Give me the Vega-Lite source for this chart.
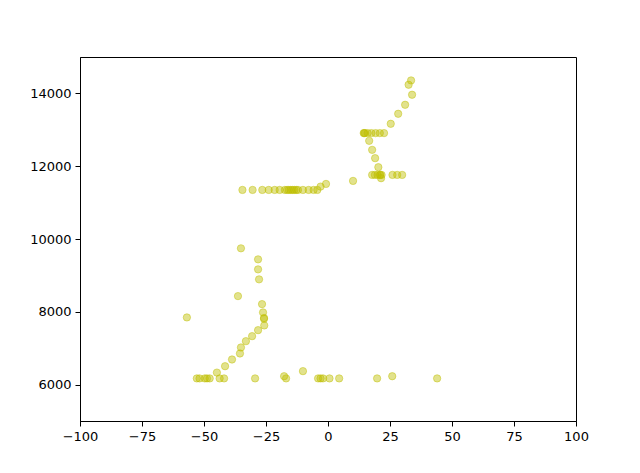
{
  "$schema": "https://vega.github.io/schema/vega-lite/v6.json",
  "width": 496,
  "height": 364,
  "autosize": "none",
  "padding": {"left": 80, "top": 57, "right": 64, "bottom": 52},
  "background": "white",
  "config": {
    "view": {"stroke": "black", "strokeWidth": 1},
    "axis": {
      "grid": false,
      "domainColor": "black",
      "tickColor": "black",
      "tickSize": 5,
      "labelColor": "black",
      "labelFont": "DejaVu Sans",
      "labelFontSize": 13,
      "labelPadding": 4,
      "labelFlush": false,
      "title": null
    }
  },
  "data": {
    "values": [
      {"x": -52.9, "y": 6170}, {"x": -51.8, "y": 6170}, {"x": -49.7, "y": 6170}, {"x": -48.8, "y": 6170},
      {"x": -47.7, "y": 6170}, {"x": -43.7, "y": 6170}, {"x": -41.9, "y": 6170}, {"x": -29.4, "y": 6170},
      {"x": -17.7, "y": 6230}, {"x": -16.9, "y": 6170}, {"x": -10.1, "y": 6370}, {"x": -4.0, "y": 6170},
      {"x": -3.0, "y": 6170}, {"x": -2.0, "y": 6170}, {"x": 0.6, "y": 6170}, {"x": 4.5, "y": 6170},
      {"x": 19.8, "y": 6170}, {"x": 25.9, "y": 6230}, {"x": 44.0, "y": 6170},
      {"x": -44.8, "y": 6330}, {"x": -41.5, "y": 6505}, {"x": -38.7, "y": 6690},
      {"x": -35.5, "y": 6855}, {"x": -35.1, "y": 7020}, {"x": -33.1, "y": 7193}, {"x": -30.6, "y": 7331},
      {"x": -28.2, "y": 7496}, {"x": -25.7, "y": 7625}, {"x": -25.8, "y": 7807}, {"x": -25.8, "y": 7830},
      {"x": -26.2, "y": 7983}, {"x": -26.6, "y": 8211}, {"x": -56.9, "y": 7845}, {"x": -36.3, "y": 8431},
      {"x": -27.8, "y": 8891}, {"x": -28.2, "y": 9166}, {"x": -28.2, "y": 9441}, {"x": -35.1, "y": 9744},
      {"x": -34.5, "y": 11348}, {"x": -30.4, "y": 11348}, {"x": -26.5, "y": 11348}, {"x": -23.9, "y": 11348},
      {"x": -21.5, "y": 11348}, {"x": -19.5, "y": 11348}, {"x": -17.4, "y": 11348}, {"x": -16.5, "y": 11348},
      {"x": -15.8, "y": 11348}, {"x": -15.0, "y": 11348}, {"x": -14.3, "y": 11348}, {"x": -13.6, "y": 11348},
      {"x": -12.8, "y": 11348}, {"x": -12.1, "y": 11348}, {"x": -10.1, "y": 11348}, {"x": -7.8, "y": 11348},
      {"x": -5.8, "y": 11348}, {"x": -4.3, "y": 11348}, {"x": -3.0, "y": 11440}, {"x": -0.8, "y": 11513},
      {"x": 10.1, "y": 11596},
      {"x": 33.5, "y": 14356}, {"x": 32.5, "y": 14238}, {"x": 33.9, "y": 13963}, {"x": 31.1, "y": 13687},
      {"x": 28.3, "y": 13440}, {"x": 25.3, "y": 13165},
      {"x": 14.4, "y": 12909}, {"x": 14.6, "y": 12909}, {"x": 14.9, "y": 12909}, {"x": 16.0, "y": 12909},
      {"x": 17.5, "y": 12909}, {"x": 19.2, "y": 12909}, {"x": 20.9, "y": 12909}, {"x": 22.6, "y": 12909},
      {"x": 16.6, "y": 12697}, {"x": 17.8, "y": 12449}, {"x": 19.0, "y": 12221}, {"x": 20.3, "y": 11973},
      {"x": 17.8, "y": 11761}, {"x": 18.9, "y": 11761}, {"x": 20.0, "y": 11761}, {"x": 20.9, "y": 11761},
      {"x": 21.1, "y": 11761}, {"x": 21.6, "y": 11761}, {"x": 26.0, "y": 11761}, {"x": 27.9, "y": 11761},
      {"x": 29.9, "y": 11761}, {"x": 21.4, "y": 11670}
    ]
  },
  "mark": {"type": "point", "shape": "circle", "filled": true, "size": 54, "color": "#bfbf00", "opacity": 1, "fillOpacity": 0.45, "stroke": "#bfbf00", "strokeOpacity": 0.45, "strokeWidth": 1},
  "encoding": {
    "x": {"field": "x", "type": "quantitative", "scale": {"domain": [-100, 100], "nice": false, "zero": false},
      "axis": {"values": [-100, -75, -50, -25, 0, 25, 50, 75, 100], "format": "d"}},
    "y": {"field": "y", "type": "quantitative", "scale": {"domain": [5000, 15000], "nice": false, "zero": false},
      "axis": {"values": [6000, 8000, 10000, 12000, 14000], "format": "d"}}
  }
}
